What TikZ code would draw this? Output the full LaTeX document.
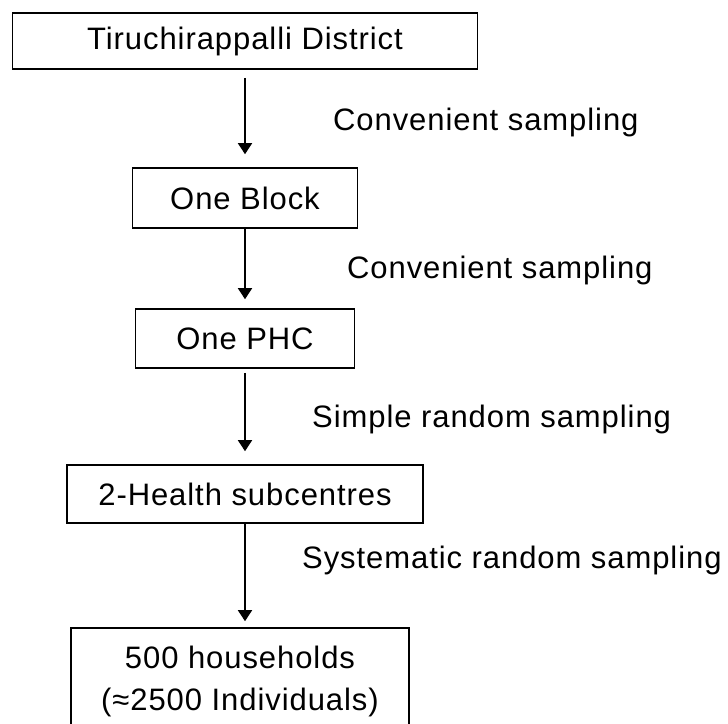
\documentclass[tikz,border=0pt]{standalone}
\usepackage{fontspec}
\setmainfont[LetterSpace=3]{Liberation Sans}
\usetikzlibrary{arrows.meta}

\tikzset{
	stagebox/.style={draw, line width=1.6pt, inner sep=0pt, align=center,
		font=\fontsize{31}{42}\selectfont},
	howlabel/.style={anchor=base west, inner sep=0pt,
		font=\fontsize{31}{36}\selectfont},
	downarrow/.style={line width=1.6pt, -{Triangle[width=14pt,length=11pt]}}
}

\begin{document}
\begin{tikzpicture}[x=1pt,y=-1pt]
	\clip (0,0) rectangle (728,723);
	
	%boxes
	\node[stagebox, minimum width=465pt, minimum height=56pt] (district) at (245,41) 	{Tiruchirappalli District};
	\node[stagebox, minimum width=225pt, minimum height=60pt] (block) 	at (245,198) 	{One Block};
	\node[stagebox, minimum width=219pt, minimum height=59pt] (phc) 		at (245,338.5) 	{One PHC};
	\node[stagebox, minimum width=356pt, minimum height=58pt] (subc) 	at (245,494) 	{2-Health subcentres};
	\node[stagebox, minimum width=338pt, minimum height=106pt] (homes) 	at (240,681) 	{500 households\\(≈2500 Individuals)};
	
	%labels
	\node[howlabel] (conv1) at (333,130) 	{Convenient sampling};
	\node[howlabel] (conv2) at (347,278) 	{Convenient sampling};
	\node[howlabel] (simple) at (312,427) 	{Simple random sampling};
	\node[howlabel] (syst) at (302,568) 	{Systematic random sampling};
	
	%arrows
	\draw[downarrow, shorten <=8pt, shorten >=13pt] (district.south) -- (block.north);
	\draw[downarrow, shorten >=9pt] (block.south) -- (phc.north);
	\draw[downarrow, shorten <=4pt, shorten >=13pt] (phc.south) -- (subc.north);
	\draw[downarrow, shorten >=6pt] (subc.south) -- (subc.south |- homes.north);
\end{tikzpicture}
\end{document}
